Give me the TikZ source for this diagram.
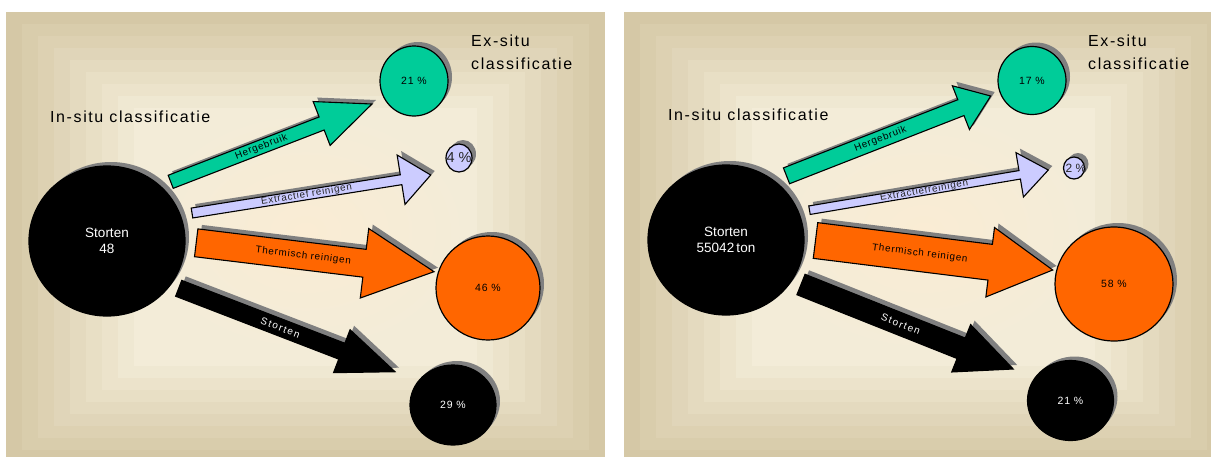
\documentclass[tikz,border=0pt]{standalone}
\usepackage{fontspec}
\setmainfont{Liberation Sans}
\newfontfamily\titlefont[LetterSpace=10]{Liberation Sans}
\newfontfamily\tagfont[LetterSpace=8]{Liberation Sans}
\newfontfamily\widetagfont[LetterSpace=15]{Liberation Sans}
\usetikzlibrary{calc,shapes.geometric,shadows}

\definecolor{bgout}{RGB}{213,200,166}
\definecolor{bgin}{RGB}{243,236,216}
\definecolor{glow}{RGB}{250,236,212}
\definecolor{reuse}{RGB}{0,204,153}
\definecolor{lilac}{RGB}{204,204,255}
\definecolor{heat}{RGB}{255,102,0}
\definecolor{shadowgray}{RGB}{128,128,128}

% block arrow: tail, tip, half shaft, half head, head length
\newcommand{\arrowoutline}[5]{($(#1)!#3!90:(#2)$) -- ($(#2)!#5!(#1)!#3!90:(#2)$) -- ($(#2)!#5!(#1)!#4!90:(#2)$) -- (#2) -- ($(#2)!#5!(#1)!#4!-90:(#2)$) -- ($(#2)!#5!(#1)!#3!-90:(#2)$) -- ($(#1)!#3!-90:(#2)$) -- cycle}
\newcommand{\flowarrow}[6]{%
  \begin{scope}[transform canvas={xshift=4pt,yshift=4pt}]
    \fill[shadowgray] \arrowoutline{#2}{#3}{#4}{#5}{#6};
  \end{scope}
  \filldraw[flowline, fill=#1] \arrowoutline{#2}{#3}{#4}{#5}{#6};
}

\begin{document}
\begin{tikzpicture}[x=1pt,y=-1pt,
  pool/.style={ellipse, draw=black, line width=1.2pt, inner sep=0pt,
    drop shadow={shadow xshift=4pt, shadow yshift=4pt, fill=shadowgray, opacity=1}},
  source/.style={pool, fill=black, text=white, align=center,
    font=\fontsize{13.5}{16}\selectfont, minimum width=156pt, minimum height=150pt},
  pct/.style={font=\tagfont\fontsize{10.5}{12}\selectfont},
  bigpct/.style={text=black!85, inner sep=0pt},
  heading/.style={font=\titlefont\fontsize{16}{23}\selectfont, inner sep=0pt,
    anchor=west, align=left},
  flowtag/.style={sloped, inner sep=0pt, font=\tagfont\fontsize{9.8}{12}\selectfont},
  flowline/.style={draw=black, line width=1.1pt, line join=miter}
]
\useasboundingbox (0,0) rectangle (1211,456);
\clip (0,0) rectangle (1211,456);
\fill[white] (0,0) rectangle (1211,456);

% backgrounds
\foreach \px in {6,624}{
  \foreach \k in {0,...,8}{
    \pgfmathsetmacro\mixp{100*\k/8}
    \fill[bgin!\mixp!bgout] (\px+16*\k,12+12*\k) rectangle (\px+599-16*\k,462-12*\k);
  }
  \shade[inner color=glow, outer color=bgin] (\px+134,108) rectangle (\px+465,354);
}

% left panel
\node[heading] (insituL) at (50,117) {In-situ classificatie};
\node[heading] (exsituL) at (471,52.5) {Ex-situ\\classificatie};

\node[source] (storeL) at (107,241) {Storten\\48};
\node[pool, fill=reuse, minimum width=68pt, minimum height=70pt,
  label={[pct]center:21 \%}] (reuseL) at (414,81) {};
\node[pool, fill=lilac, minimum width=26pt, minimum height=28pt] (lilacL) at (459,158) {};
\node[bigpct, font=\fontsize{14.5}{16}\selectfont] (lilacLtag) at (lilacL) {4 \%};
\node[pool, fill=heat, minimum width=104pt, minimum height=104pt,
  label={[pct]center:46 \%}] (heatL) at (488,288) {};
\node[pool, fill=black, minimum width=86pt, minimum height=80pt,
  label={[pct, text=white]center:29 \%}] (dumpL) at (453,405) {};

\coordinate (reuseLt) at (170.7,181.8);
\coordinate (reuseLh) at (372,104);
\coordinate (lilacLt) at (192,213);
\coordinate (lilacLh) at (430.7,175);
\coordinate (heatLt) at (196.2,242.8);
\coordinate (heatLh) at (434,271.7);
\coordinate (dumpLt) at (178.7,288.3);
\coordinate (dumpLh) at (395,371.7);

\flowarrow{reuse}{reuseLt}{reuseLh}{7pt}{23.5pt}{54pt}
\flowarrow{lilac}{lilacLt}{lilacLh}{5pt}{25pt}{30pt}
\flowarrow{heat}{heatLt}{heatLh}{14pt}{35pt}{70pt}
\flowarrow{black}{dumpLt}{dumpLh}{8.5pt}{23pt}{57pt}

\path (reuseLt) -- (reuseLh) node[flowtag, pos=0.45] (reuseLtag) {Hergebruik};
\path (lilacLt) -- (lilacLh) node[flowtag, pos=0.48, text=black!85] (lilacLtag2) {Extractief reinigen};
\path (heatLt) -- (heatLh) node[flowtag, pos=0.45] (heatLtag) {Thermisch reinigen};
\path (dumpLt) -- (dumpLh) node[flowtag, pos=0.47, text=white, font=\widetagfont\fontsize{10}{12}\selectfont] (dumpLtag) {Storten};

% right panel
\node[heading] (insituR) at (668,115) {In-situ classificatie};
\node[heading] (exsituR) at (1088,52.5) {Ex-situ\\classificatie};

\node[source] (storeR) at (726,240) {Storten\\55042\,ton};
\node[pool, fill=reuse, minimum width=68pt, minimum height=68pt,
  label={[pct]center:17 \%}] (reuseR) at (1032,80.5) {};
\node[pool, fill=lilac, minimum width=21pt, minimum height=22pt] (lilacR) at (1074,168) {};
\node[bigpct, font=\fontsize{12}{14}\selectfont] (lilacRtag) at ([xshift=2pt]lilacR.center) {2 \%};
\node[pool, fill=heat, minimum width=118pt, minimum height=114pt,
  label={[pct]center:58 \%}] (heatR) at (1114,284) {};
\node[pool, fill=black, minimum width=86pt, minimum height=80pt,
  label={[pct, text=white]center:21 \%}] (dumpR) at (1070.5,400.5) {};

\coordinate (reuseRt) at (786.5,175.8);
\coordinate (reuseRh) at (990.7,96);
\coordinate (lilacRt) at (809.5,210.2);
\coordinate (lilacRh) at (1048.3,170);
\coordinate (heatRt) at (815.5,240.5);
\coordinate (heatRh) at (1052.7,270);
\coordinate (dumpRt) at (801,284.5);
\coordinate (dumpRh) at (1013.2,369);

\flowarrow{reuse}{reuseRt}{reuseRh}{8.5pt}{23.5pt}{32pt}
\flowarrow{lilac}{lilacRt}{lilacRh}{4.3pt}{22.5pt}{29pt}
\flowarrow{heat}{heatRt}{heatRh}{18pt}{35pt}{63pt}
\flowarrow{black}{dumpRt}{dumpRh}{11pt}{25.5pt}{56pt}

\path (reuseRt) -- (reuseRh) node[flowtag, pos=0.46] (reuseRtag) {Hergebruik};
\path (lilacRt) -- (lilacRh) node[flowtag, pos=0.48, text=black!85] (lilacRtag2) {Extractiefreinigen};
\path (heatRt) -- (heatRh) node[flowtag, pos=0.44] (heatRtag) {Thermisch reinigen};
\path (dumpRt) -- (dumpRh) node[flowtag, pos=0.47, text=white, font=\widetagfont\fontsize{10}{12}\selectfont] (dumpRtag) {Storten};
\end{tikzpicture}
\end{document}
